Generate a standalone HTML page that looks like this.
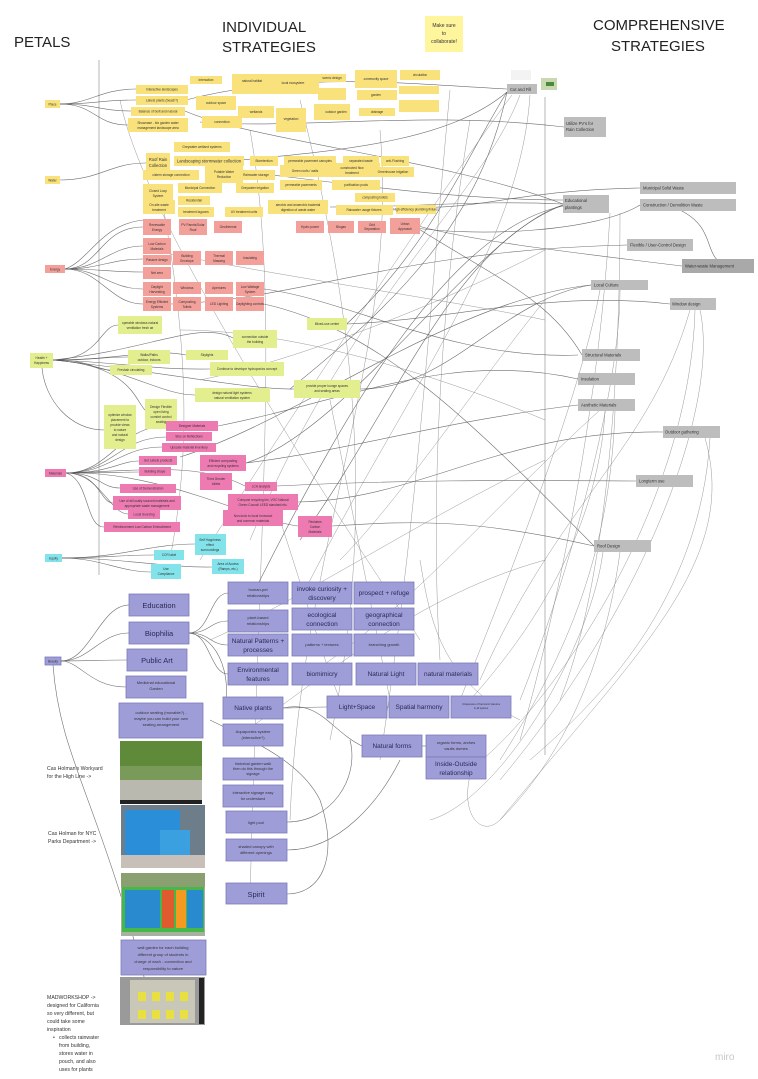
<!DOCTYPE html>
<html><head><meta charset="utf-8"><style>
html,body{margin:0;padding:0;background:#fff;}
svg{display:block;}
text{font-family:"Liberation Sans",sans-serif;fill:#333;}
.h{font-size:15px;fill:#222;}
.t{font-size:3.2px;text-anchor:middle;}
.m{font-size:4.2px;text-anchor:middle;}
.b{font-size:6.5px;text-anchor:middle;fill:#2a2a55;}
.L{font-size:7.5px;text-anchor:middle;fill:#2a2a55;}
.y{fill:#f9e27c;}
.s{fill:#f3a09a;}
.g{fill:#e3ee8f;}
.p{fill:#ee7ab2;}
.c{fill:#82e4ea;}
.u{fill:#9e9dd8;stroke:#7c7bb8;stroke-width:0.8;}
.r{fill:#bdbdbd;}
.ln path{fill:none;stroke:#555;stroke-width:0.6;opacity:0.85;}
.lf path{fill:none;stroke:#777;stroke-width:0.5;opacity:0.75;}
</style></head><body>
<svg width="758" height="1079" viewBox="0 0 758 1079" xmlns="http://www.w3.org/2000/svg">
<text class="h" x="14" y="47">PETALS</text>
<text class="h" x="222" y="32">INDIVIDUAL</text>
<text class="h" x="222" y="52">STRATEGIES</text>
<text class="h" x="593" y="30">COMPREHENSIVE</text>
<text class="h" x="611" y="51">STRATEGIES</text>
<rect x="425" y="16" width="38" height="36" fill="#fff59d"/>
<text class="m" x="444" y="27" style="font-size:5px">Make sure</text>
<text class="m" x="444" y="35" style="font-size:5px">to</text>
<text class="m" x="444" y="43" style="font-size:5px">collaborate!</text>

<line x1="99" y1="60" x2="99" y2="575" stroke="#999" stroke-width="0.7"/>
<line x1="545" y1="97" x2="545" y2="755" stroke="#999" stroke-width="0.7"/>

<g class="ln">
<path d="M60 104 C90 104 100 89 136 89"/><path d="M60 104 C95 104 100 100 136 100"/><path d="M60 104 C95 104 100 111 131 111"/><path d="M60 104 C95 104 95 125 128 125"/>
<path d="M60 180 C100 180 110 163 146 163"/>
<path d="M65 269 C100 269 100 227 143 227"/><path d="M65 269 C100 269 110 246 143 246"/><path d="M65 269 C100 269 110 259 143 259"/><path d="M65 269 C100 269 110 272 143 272"/><path d="M65 269 C100 269 110 289 143 289"/><path d="M65 269 C100 269 110 304 143 304"/><path d="M65 269 C90 260 100 225 143 220"/>
<path d="M53 360 C100 360 100 325 118 325"/><path d="M53 360 C100 360 100 357 128 357"/><path d="M53 360 C90 360 95 370 110 370"/><path d="M53 360 C120 360 150 348 186 355"/><path d="M53 360 C120 362 150 370 210 369"/><path d="M53 360 C120 365 160 395 195 395"/><path d="M53 360 C130 365 135 400 145 410"/><path d="M42 368 C45 400 70 430 104 430"/><path d="M53 360 C150 350 200 320 233 338"/><path d="M53 360 C150 370 250 390 294 389"/>
<path d="M66 473 C110 473 120 426 166 426"/><path d="M66 473 C110 473 120 437 166 437"/><path d="M66 473 C110 473 120 447 162 447"/><path d="M66 473 C110 473 120 461 139 461"/><path d="M66 473 C110 473 120 472 139 472"/><path d="M66 473 C100 473 100 488 120 488"/><path d="M66 473 C100 473 100 503 113 503"/><path d="M66 473 C100 473 110 514 128 514"/><path d="M66 473 C90 480 85 527 104 527"/><path d="M66 473 C150 470 200 463 245 486"/><path d="M66 473 C160 470 250 520 298 526"/>
<path d="M62 558 C100 558 120 555 154 555"/><path d="M62 558 C100 558 120 572 151 572"/><path d="M62 558 C120 558 150 544 195 544"/><path d="M62 558 C120 558 170 568 212 567"/>
<path d="M61 661 C90 661 100 605 129 605"/><path d="M61 661 C90 661 100 633 129 633"/><path d="M61 661 C90 661 100 660 127 660"/><path d="M61 661 C80 661 90 687 126 687"/><path d="M53 665 C60 760 100 800 150 1000"/>
<path d="M189 633 C210 633 210 593 228 593"/><path d="M189 633 C210 633 210 621 228 621"/><path d="M189 633 C210 633 210 645 228 645"/><path d="M189 633 C210 633 210 674 228 674"/><path d="M189 633 C230 640 230 700 223 708"/><path d="M283 708 C300 708 310 707 327 707"/><path d="M283 708 C320 700 330 730 362 746"/><path d="M422 746 L426 746"/><path d="M387 707 L389 707"/>
<path d="M287 894 C320 894 340 860 320 800 C300 760 250 740 210 720"/><path d="M287 822 C330 822 360 780 350 740"/><path d="M287 850 C340 850 380 800 400 760"/>
<path d="M186 100 C300 70 420 85 507 89"/><path d="M200 122 C300 130 420 110 564 127"/><path d="M230 161 C350 150 450 140 507 92"/><path d="M330 207 C420 207 480 200 563 204"/><path d="M418 226 C470 240 550 250 682 266"/><path d="M171 304 C300 300 400 250 627 245"/><path d="M347 324 C450 320 550 290 670 304"/><path d="M360 389 C450 390 500 300 591 285"/><path d="M218 426 C350 400 450 350 578 379"/><path d="M246 463 C350 450 450 420 578 405"/><path d="M277 486 C400 480 500 480 636 481"/><path d="M298 502 C420 500 500 430 663 432"/><path d="M332 526 C420 520 480 520 594 546"/>
<path d="M264 289 C350 300 450 360 578 355"/><path d="M414 226 C500 280 550 300 582 355"/><path d="M185 111 C250 140 450 160 563 204"/><path d="M230 170 C320 180 450 200 563 200"/><path d="M246 463 C350 430 480 230 563 205"/><path d="M300 540 C400 400 450 250 563 205"/><path d="M250 600 C350 400 450 230 563 206"/><path d="M415 207 C480 210 520 190 640 188"/><path d="M395 225 C480 240 600 230 640 205"/><path d="M680 210 C720 230 700 260 730 266"/>
<path d="M264 304 C380 330 470 420 594 546"/><path d="M180 457 C300 420 450 300 591 285"/><path d="M290 389 C400 300 480 220 507 92"/><path d="M340 330 C430 250 470 150 507 92"/>
</g>
<g class="lf">
<path d="M520 95 C480 200 350 300 250 540"/><path d="M530 95 C520 250 400 400 300 600"/><path d="M512 95 C470 150 300 400 200 560"/><path d="M610 213 C600 400 560 600 520 740"/><path d="M620 213 C620 420 600 600 560 700"/><path d="M600 290 C580 400 500 600 460 700"/><path d="M620 290 C620 400 560 600 520 700"/><path d="M690 310 C650 450 560 500 480 680"/><path d="M695 310 C690 500 560 700 470 770"/><path d="M700 310 C720 400 650 600 500 780"/><path d="M710 438 C700 600 600 700 530 760"/><path d="M605 411 C600 500 560 600 470 700"/><path d="M615 411 C610 550 570 650 500 760"/><path d="M603 552 C590 650 500 800 430 820"/><path d="M620 552 C600 700 540 780 500 820"/><path d="M705 438 C740 560 640 650 500 820 C480 840 455 810 475 760"/>
<path d="M300 100 C350 300 380 500 330 740"/><path d="M380 130 C400 350 300 550 290 820"/><path d="M250 130 C280 300 260 500 250 900"/><path d="M160 190 C200 400 180 500 170 560"/><path d="M120 100 C140 200 260 400 420 640"/><path d="M330 400 C350 500 370 600 390 700"/><path d="M280 520 C300 580 320 650 340 700"/><path d="M450 90 C430 300 420 500 380 760"/><path d="M470 120 C440 300 430 500 440 660"/><path d="M340 560 C400 500 480 380 545 300"/><path d="M210 640 C300 600 420 520 545 460"/><path d="M300 680 C400 620 500 500 600 410"/><path d="M230 740 C300 700 400 600 545 560"/>
<path d="M200 380 C300 360 450 300 545 250"/><path d="M150 250 C300 280 450 300 545 320"/><path d="M180 330 C300 330 450 380 545 420"/><path d="M420 560 C430 620 440 680 520 720"/>
</g>

<rect class="y" x="45" y="100" width="15" height="8"/><text class="t" x="52.5" y="105.5">Place</text>
<rect class="y" x="45" y="176" width="15" height="8"/><text class="t" x="52.5" y="181.5">Water</text>
<rect class="s" x="45" y="265" width="20" height="8"/><text class="t" x="55" y="270.5">Energy</text>
<rect class="g" x="30" y="353" width="23" height="15"/><text class="t" x="41.5" y="359">Health +</text><text class="t" x="41.5" y="364">Happiness</text>
<rect class="p" x="45" y="469" width="21" height="8"/><text class="t" x="55.5" y="474.5">Materials</text>
<rect class="c" x="45" y="554" width="17" height="8"/><text class="t" x="53.5" y="559.5">Equity</text>
<rect class="u" x="45" y="657" width="16" height="8"/><text class="t" x="53" y="662.5">Beauty</text>

<g>
<rect class="y" x="136" y="85" width="52" height="9"/><text class="t" x="162" y="90.5">Interactive landscapes</text>
<rect class="y" x="136" y="96" width="52" height="9"/><text class="t" x="162" y="101.5">Labels plants (beach?)</text>
<rect class="y" x="131" y="107" width="54" height="9"/><text class="t" x="158" y="112.5">Balance of built and natural</text>
<rect class="y" x="128" y="118" width="60" height="14"/><text class="t" x="158" y="124">Showcase - bio garden water</text><text class="t" x="158" y="129">management landscape area</text>
<rect class="y" x="190" y="76" width="32" height="8"/><rect class="y" x="232" y="74" width="40" height="20"/><rect class="y" x="196" y="96" width="40" height="14"/><rect class="y" x="238" y="106" width="36" height="12"/><rect class="y" x="202" y="116" width="40" height="12"/><rect class="y" x="276" y="108" width="30" height="24"/><rect class="y" x="267" y="74" width="52" height="20"/><rect class="y" x="318" y="74" width="28" height="8"/><rect class="y" x="318" y="88" width="28" height="12"/><rect class="y" x="314" y="104" width="36" height="16"/><rect class="y" x="355" y="70" width="42" height="18"/><rect class="y" x="357" y="90" width="40" height="10"/><rect class="y" x="359" y="108" width="36" height="8"/><rect class="y" x="400" y="70" width="40" height="10"/><rect class="y" x="399" y="86" width="40" height="8"/><rect class="y" x="399" y="100" width="40" height="12"/>
<text class="t" x="206" y="81">Interaction</text><text class="t" x="252" y="82">natural habitat</text><text class="t" x="216" y="104">outdoor space</text><text class="t" x="256" y="113">wetlands</text><text class="t" x="222" y="123">connection</text><text class="t" x="291" y="120">vegetation</text><text class="t" x="293" y="84">local ecosystem</text><text class="t" x="332" y="79">scenic design</text><text class="t" x="336" y="113">outdoor garden</text><text class="t" x="376" y="80">community space</text><text class="t" x="376" y="96">garden</text><text class="t" x="377" y="113">drainage</text><text class="t" x="420" y="76">circulation</text>
</g>
<g>
<rect class="y" x="174" y="142" width="56" height="10"/><text class="t" x="202" y="148">Greywater wetland systems</text>
<rect class="y" x="146" y="153" width="24" height="20"/><text class="m" x="158" y="161">Roof Rain</text><text class="m" x="158" y="167">Collection</text>
<rect class="y" x="174" y="156" width="70" height="10"/><text class="m" x="209" y="162.5">Landscaping stormwater collection</text>
<rect class="y" x="250" y="156" width="28" height="10"/><text class="t" x="264" y="162">Bioretention</text>
<rect class="y" x="284" y="156" width="52" height="10"/><text class="t" x="310" y="162">permeable pavement canopies</text>
<rect class="y" x="343" y="156" width="36" height="10"/><text class="t" x="361" y="162">separated waste</text>
<rect class="y" x="381" y="156" width="28" height="10"/><text class="t" x="395" y="162">anti-Flushing</text>
<rect class="y" x="143" y="170" width="56" height="10"/><text class="t" x="171" y="176">cistern storage connection</text>
<rect class="y" x="205" y="165" width="38" height="18"/><text class="t" x="224" y="173">Potable Water</text><text class="t" x="224" y="178">Reduction</text>
<rect class="y" x="237" y="170" width="38" height="10"/><text class="t" x="256" y="176">Rainwater storage</text>
<rect class="y" x="280" y="165" width="50" height="12"/><text class="t" x="305" y="172">Green roofs / walls</text>
<rect class="y" x="325" y="163" width="55" height="14"/><text class="t" x="352" y="169">constructed flow</text><text class="t" x="352" y="174">treatment</text>
<rect class="y" x="372" y="167" width="42" height="10"/><text class="t" x="393" y="173">Greenhouse irrigation</text>
<rect class="y" x="143" y="184" width="30" height="20"/><text class="t" x="158" y="192">Closed Loop</text><text class="t" x="158" y="197">System</text>
<rect class="y" x="178" y="183" width="44" height="10"/><text class="t" x="200" y="189">Municipal Connection</text>
<rect class="y" x="236" y="183" width="38" height="10"/><text class="t" x="255" y="189">Greywater irrigation</text>
<rect class="y" x="280" y="180" width="42" height="10"/><text class="t" x="301" y="186">permeable pavements</text>
<rect class="y" x="332" y="180" width="48" height="10"/><text class="t" x="356" y="186">purification pools</text>
<rect class="y" x="178" y="196" width="32" height="9"/><text class="t" x="194" y="201.5">Residential</text>
<rect class="y" x="355" y="193" width="40" height="9"/><text class="t" x="375" y="198.5">composting toilets</text>
<rect class="y" x="143" y="200" width="32" height="14"/><text class="t" x="159" y="206">On-site waste</text><text class="t" x="159" y="211">treatment</text>
<rect class="y" x="178" y="207" width="36" height="10"/><text class="t" x="196" y="213">treatment lagoons</text>
<rect class="y" x="225" y="207" width="38" height="10"/><text class="t" x="244" y="213">UV treatment units</text>
<rect class="y" x="268" y="200" width="60" height="14"/><text class="t" x="298" y="206">aerobic and anaerobic bacterial</text><text class="t" x="298" y="211">digestion of waste water</text>
<rect class="y" x="336" y="205" width="57" height="10"/><text class="t" x="364" y="211">Rainwater usage fixtures</text>
<rect class="y" x="396" y="205" width="40" height="9"/><text class="t" x="416" y="210.5">High efficiency plumbing fixtures</text>
</g>
<g>
<rect class="s" x="143" y="219" width="28" height="16"/><text class="t" x="157" y="226">Renewable</text><text class="t" x="157" y="231">Energy</text>
<rect class="s" x="179" y="219" width="28" height="16"/><text class="t" x="193" y="226">PV Panels/Solar</text><text class="t" x="193" y="231">Roof</text>
<rect class="s" x="214" y="221" width="28" height="12"/><text class="t" x="228" y="228">Geothermal</text>
<rect class="s" x="296" y="221" width="28" height="12"/><text class="t" x="310" y="228">Hydro power</text>
<rect class="s" x="328" y="221" width="26" height="12"/><text class="t" x="341" y="228">Biogas</text>
<rect class="s" x="358" y="221" width="28" height="12"/><text class="t" x="372" y="226">Grid</text><text class="t" x="372" y="230">Separation</text>
<rect class="s" x="390" y="218" width="30" height="16"/><text class="t" x="405" y="225">Urban</text><text class="t" x="405" y="230">Approach</text>
<rect class="s" x="143" y="238" width="28" height="16"/><text class="t" x="157" y="245">Low Carbon</text><text class="t" x="157" y="250">Materials</text>
<rect class="s" x="143" y="255" width="28" height="10"/><text class="t" x="157" y="261">Passive design</text>
<rect class="s" x="173" y="251" width="28" height="14"/><text class="t" x="187" y="257">Building</text><text class="t" x="187" y="262">Envelope</text>
<rect class="s" x="205" y="251" width="28" height="14"/><text class="t" x="219" y="257">Thermal</text><text class="t" x="219" y="262">Massing</text>
<rect class="s" x="236" y="251" width="28" height="14"/><text class="t" x="250" y="259">Insulating</text>
<rect class="s" x="143" y="267" width="28" height="12"/><text class="t" x="157" y="274">Net zero</text>
<rect class="s" x="143" y="282" width="28" height="14"/><text class="t" x="157" y="288">Daylight</text><text class="t" x="157" y="293">Harvesting</text>
<rect class="s" x="173" y="282" width="28" height="12"/><text class="t" x="187" y="289">Windows</text>
<rect class="s" x="205" y="282" width="28" height="12"/><text class="t" x="219" y="289">Apertures</text>
<rect class="s" x="236" y="282" width="28" height="14"/><text class="t" x="250" y="288">Low Wattage</text><text class="t" x="250" y="293">System</text>
<rect class="s" x="143" y="297" width="28" height="14"/><text class="t" x="157" y="303">Energy Efficient</text><text class="t" x="157" y="308">Systems</text>
<rect class="s" x="173" y="297" width="28" height="14"/><text class="t" x="187" y="303">Composting</text><text class="t" x="187" y="308">Toilets</text>
<rect class="s" x="205" y="297" width="28" height="14"/><text class="t" x="219" y="305">LED Lighting</text>
<rect class="s" x="236" y="297" width="28" height="14"/><text class="t" x="250" y="305">Daylighting controls</text>
</g>
<g>
<rect class="g" x="118" y="316" width="44" height="18"/><text class="t" x="140" y="324">operable windows natural</text><text class="t" x="140" y="329">ventilation fresh air</text>
<rect class="g" x="128" y="350" width="42" height="14"/><text class="t" x="149" y="356">Walks/Paths</text><text class="t" x="149" y="361">outdoor, indoors</text>
<rect class="g" x="110" y="365" width="42" height="10"/><text class="t" x="131" y="371">Freshair circulating</text>
<rect class="g" x="186" y="350" width="42" height="10"/><text class="t" x="207" y="356">Skylights</text>
<rect class="g" x="210" y="362" width="74" height="14"/><text class="t" x="247" y="370">Continue to develope hydroponics concept</text>
<rect class="g" x="233" y="330" width="44" height="18"/><text class="t" x="255" y="338">connection outside</text><text class="t" x="255" y="343">the building</text>
<rect class="g" x="307" y="318" width="40" height="12"/><text class="t" x="327" y="325">Mixed-use center</text>
<rect class="g" x="195" y="388" width="75" height="14"/><text class="t" x="232" y="394">design natural light systems</text><text class="t" x="232" y="399">natural ventilation system</text>
<rect class="g" x="294" y="380" width="66" height="18"/><text class="t" x="327" y="387">provide proper lounge spaces</text><text class="t" x="327" y="392">and seating areas</text>
<rect class="g" x="104" y="405" width="32" height="44"/><text class="t" x="120" y="416">optimize window</text><text class="t" x="120" y="421">placement to</text><text class="t" x="120" y="426">provide views</text><text class="t" x="120" y="431">to nature</text><text class="t" x="120" y="436">and natural</text><text class="t" x="120" y="441">design</text>
<rect class="g" x="145" y="399" width="32" height="30"/><text class="t" x="161" y="408">Design Flexible</text><text class="t" x="161" y="413">open living</text><text class="t" x="161" y="418">comfort control</text><text class="t" x="161" y="423">seating</text>
</g>
<g>
<rect class="p" x="166" y="421" width="52" height="10"/><text class="t" x="192" y="427">Designer Materials</text>
<rect class="p" x="166" y="432" width="46" height="9"/><text class="t" x="189" y="437.5">Stoc on Reflections</text>
<rect class="p" x="162" y="443" width="54" height="9"/><text class="t" x="189" y="448.5">Upscale material inventory</text>
<rect class="p" x="139" y="456" width="38" height="9"/><text class="t" x="158" y="461.5">Get Labels products</text>
<rect class="p" x="139" y="467" width="32" height="9"/><text class="t" x="155" y="472.5">Building shape</text>
<rect class="p" x="200" y="455" width="46" height="16"/><text class="t" x="223" y="462">Efficient composting</text><text class="t" x="223" y="467">and recycling systems</text>
<rect class="p" x="120" y="484" width="56" height="9"/><text class="t" x="148" y="489.5">Use of Demonstration</text>
<rect class="p" x="200" y="473" width="32" height="17"/><text class="t" x="216" y="480">Third Gender</text><text class="t" x="216" y="485">toilets</text>
<rect class="p" x="245" y="482" width="32" height="9"/><text class="t" x="261" y="487.5">LCA analysis</text>
<rect class="p" x="113" y="496" width="68" height="14"/><text class="t" x="147" y="502">Use of all locally sourced materials and</text><text class="t" x="147" y="507">appropriate waste management</text>
<rect class="p" x="228" y="494" width="70" height="16"/><text class="t" x="263" y="501">Compost recycling bin, VOC Natural</text><text class="t" x="263" y="506">Green Council LEED standard etc.</text>
<rect class="p" x="128" y="510" width="32" height="9"/><text class="t" x="144" y="515.5">Local Sourcing</text>
<rect class="p" x="223" y="510" width="60" height="16"/><text class="t" x="253" y="517">Non-toxic to local Ironwood</text><text class="t" x="253" y="522">and common materials</text>
<rect class="p" x="104" y="522" width="76" height="10"/><text class="t" x="142" y="528">Reinforcement Low Carbon Embodiment</text>
<rect class="p" x="298" y="516" width="34" height="21"/><text class="t" x="315" y="523">Reclaims</text><text class="t" x="315" y="528">Carbon</text><text class="t" x="315" y="533">Materials</text>
</g>
<g>
<rect class="c" x="195" y="534" width="31" height="21"/><text class="t" x="210" y="541">Self Happiness</text><text class="t" x="210" y="546">effect</text><text class="t" x="210" y="551">surroundings</text>
<rect class="c" x="154" y="550" width="30" height="10"/><text class="t" x="169" y="556">CCR label</text>
<rect class="c" x="212" y="559" width="32" height="15"/><text class="t" x="228" y="565">Area of Access</text><text class="t" x="228" y="570">(Ramps, etc.)</text>
<rect class="c" x="151" y="564" width="30" height="15"/><text class="t" x="166" y="570">Use</text><text class="t" x="166" y="575">Compliance</text>
</g>
<g>
<rect class="u" x="129" y="594" width="60" height="22"/><text class="L" x="159" y="608">Education</text>
<rect class="u" x="129" y="622" width="60" height="22"/><text class="L" x="159" y="636">Biophilia</text>
<rect class="u" x="127" y="649" width="60" height="22"/><text class="L" x="157" y="663">Public Art</text>
<rect class="u" x="126" y="676" width="60" height="22"/><text class="t" x="156" y="684" style="font-size:4px">Medicinal educational</text><text class="t" x="156" y="690" style="font-size:4px">Garden</text>
<rect class="u" x="119" y="703" width="84" height="35"/><text class="t" x="161" y="714" style="font-size:4px">outdoor seating (movable?) -</text><text class="t" x="161" y="720" style="font-size:4px">maybe you can build your own</text><text class="t" x="161" y="726" style="font-size:4px">seating arrangement</text>
<rect class="u" x="228" y="582" width="60" height="22"/><text class="t" x="258" y="591" style="font-size:4px">human-pet</text><text class="t" x="258" y="597" style="font-size:4px">relationships</text>
<rect class="u" x="292" y="582" width="60" height="22"/><text class="b" x="322" y="591">invoke curiosity +</text><text class="b" x="322" y="600">discovery</text>
<rect class="u" x="354" y="582" width="60" height="22"/><text class="b" x="384" y="595">prospect + refuge</text>
<rect class="u" x="228" y="610" width="60" height="22"/><text class="t" x="258" y="619" style="font-size:4px">plant-based</text><text class="t" x="258" y="625" style="font-size:4px">relationships</text>
<rect class="u" x="292" y="608" width="60" height="22"/><text class="b" x="322" y="617">ecological</text><text class="b" x="322" y="626">connection</text>
<rect class="u" x="354" y="608" width="60" height="22"/><text class="b" x="384" y="617">geographical</text><text class="b" x="384" y="626">connection</text>
<rect class="u" x="228" y="634" width="60" height="22"/><text class="b" x="258" y="643">Natural Patterns +</text><text class="b" x="258" y="652">processes</text>
<rect class="u" x="292" y="634" width="60" height="22"/><text class="t" x="322" y="646" style="font-size:4px">patterns + textures</text>
<rect class="u" x="354" y="634" width="60" height="22"/><text class="t" x="384" y="646" style="font-size:4px">branching growth</text>
<rect class="u" x="228" y="663" width="60" height="22"/><text class="b" x="258" y="672">Environmental</text><text class="b" x="258" y="681">features</text>
<rect class="u" x="292" y="663" width="60" height="22"/><text class="b" x="322" y="676">biomimicry</text>
<rect class="u" x="356" y="663" width="60" height="22"/><text class="b" x="386" y="676">Natural Light</text>
<rect class="u" x="418" y="663" width="60" height="22"/><text class="b" x="448" y="676">natural materials</text>
<rect class="u" x="223" y="697" width="60" height="22"/><text class="b" x="253" y="710">Native plants</text>
<rect class="u" x="327" y="696" width="60" height="22"/><text class="b" x="357" y="709">Light+Space</text>
<rect class="u" x="389" y="696" width="60" height="22"/><text class="b" x="419" y="709">Spatial harmony</text>
<rect class="u" x="451" y="696" width="60" height="22"/><text class="t" x="481" y="705" style="font-size:2.6px">Uniqueness of harmonic features</text><text class="t" x="481" y="709" style="font-size:2.6px">in all spaces</text>
<rect class="u" x="223" y="724" width="60" height="22"/><text class="t" x="253" y="733" style="font-size:4px">Aquaponics system</text><text class="t" x="253" y="739" style="font-size:4px">(interactive?)</text>
<rect class="u" x="362" y="735" width="60" height="22"/><text class="b" x="392" y="748">Natural forms</text>
<rect class="u" x="426" y="735" width="60" height="22"/><text class="t" x="456" y="744" style="font-size:4px">organic forms, arches</text><text class="t" x="456" y="750" style="font-size:4px">vaults domes</text>
<rect class="u" x="426" y="757" width="60" height="22"/><text class="b" x="456" y="766">Inside-Outside</text><text class="b" x="456" y="775">relationship</text>
<rect class="u" x="223" y="758" width="60" height="22"/><text class="t" x="253" y="765" style="font-size:3.8px">historical garden walk</text><text class="t" x="253" y="770" style="font-size:3.8px">then do this through the</text><text class="t" x="253" y="775" style="font-size:3.8px">signage</text>
<rect class="u" x="223" y="785" width="60" height="22"/><text class="t" x="253" y="794" style="font-size:3.8px">interactive signage easy</text><text class="t" x="253" y="800" style="font-size:3.8px">for understand</text>
<rect class="u" x="226" y="811" width="61" height="22"/><text class="t" x="256" y="824" style="font-size:4px">light pool</text>
<rect class="u" x="226" y="839" width="61" height="22"/><text class="t" x="256" y="848" style="font-size:4px">shaded canopy with</text><text class="t" x="256" y="854" style="font-size:4px">different openings</text>
<rect class="u" x="226" y="883" width="61" height="21"/><text class="L" x="256" y="897">Spirit</text>
<rect class="u" x="121" y="940" width="85" height="35"/><text class="t" x="163" y="949" style="font-size:4px">wall garden for each building</text><text class="t" x="163" y="956" style="font-size:4px">different group of students in</text><text class="t" x="163" y="963" style="font-size:4px">charge of each - connection and</text><text class="t" x="163" y="970" style="font-size:4px">responsibility to nature</text>
</g>
<rect x="120" y="741" width="82" height="62" fill="#7a9a5a"/><rect x="120" y="741" width="82" height="25" fill="#5f8a3a"/><rect x="120" y="780" width="82" height="23" fill="#b9b9b0"/><rect x="120" y="800" width="82" height="4" fill="#222"/>
<rect x="121" y="805" width="84" height="63" fill="#6d7d8a"/><rect x="125" y="810" width="55" height="50" fill="#2a8fd8"/><rect x="160" y="830" width="30" height="36" fill="#3aa0e0"/><rect x="121" y="855" width="84" height="13" fill="#c8c0b8"/>
<rect x="121" y="873" width="84" height="63" fill="#a8b0a0"/><rect x="121" y="873" width="84" height="14" fill="#8aa070"/><rect x="122" y="887" width="82" height="45" fill="#46b84a"/><rect x="125" y="890" width="35" height="38" fill="#2a8ad0"/><rect x="162" y="890" width="12" height="38" fill="#e05a30"/><rect x="176" y="890" width="10" height="38" fill="#f59a20"/><rect x="187" y="890" width="16" height="38" fill="#2a8ad0"/>
<rect x="120" y="977" width="85" height="48" fill="#9a9a9a"/><rect x="130" y="980" width="65" height="43" fill="#c9c7b8"/><g fill="#e8e040"><rect x="138" y="992" width="8" height="9"/><rect x="152" y="992" width="8" height="9"/><rect x="166" y="992" width="8" height="9"/><rect x="180" y="992" width="8" height="9"/><rect x="138" y="1010" width="8" height="9"/><rect x="152" y="1010" width="8" height="9"/><rect x="166" y="1010" width="8" height="9"/><rect x="180" y="1010" width="8" height="9"/></g><rect x="199" y="978" width="5" height="46" fill="#222"/>
<g style="font-size:5.2px">
<text x="47" y="770">Cas Holman's Workyard</text><text x="47" y="778">for the High Line -&gt;</text>
<text x="48" y="835">Cas Holman for NYC</text><text x="48" y="843">Parks Department -&gt;</text>
<text x="47" y="999">MADWORKSHOP -&gt;</text><text x="47" y="1007">designed for California</text><text x="47" y="1015">so very different, but</text><text x="47" y="1023">could take some</text><text x="47" y="1031">inspiration</text><text x="53" y="1039">•</text><text x="59" y="1039">collects rainwater</text><text x="59" y="1047">from building,</text><text x="59" y="1055">stores water in</text><text x="59" y="1063">pouch, and also</text><text x="59" y="1071">uses for plants</text>
</g>
<g style="font-size:4.2px">
<rect class="r" x="507" y="84" width="30" height="10"/><text x="510" y="91">Cut and Fill</text>
<rect x="511" y="70" width="20" height="10" fill="#f3f3f3"/><rect x="541" y="78" width="16" height="12" fill="#c8d8b0"/><rect x="546" y="82" width="8" height="4" fill="#4a8a3a"/>
<rect class="r" x="564" y="117" width="42" height="20"/><text x="566" y="125">Utilize PV's for</text><text x="566" y="131">Rain Collection</text>
<rect class="r" x="563" y="195" width="46" height="18"/><text x="565" y="202">Educational</text><text x="565" y="209">plantings</text>
<rect class="r" x="640" y="182" width="96" height="12"/><text x="643" y="189.5">Municipal Solid Waste</text>
<rect class="r" x="640" y="199" width="96" height="12"/><text x="643" y="206.5">Construction / Demolition Waste</text>
<rect class="r" x="627" y="239" width="66" height="12"/><text x="630" y="246.5">Flexible / User-Control Design</text>
<rect fill="#a9a9a9" x="682" y="259" width="72" height="14"/><text x="685" y="267.5">Water-waste Management</text>
<rect class="r" x="591" y="280" width="57" height="10"/><text x="594" y="286.5">Local Culture</text>
<rect class="r" x="670" y="298" width="46" height="12"/><text x="672" y="305.5">Window design</text>
<rect class="r" x="582" y="349" width="58" height="12"/><text x="585" y="356.5">Structural Materials</text>
<rect class="r" x="578" y="373" width="57" height="12"/><text x="581" y="380.5">Insulation</text>
<rect class="r" x="578" y="399" width="57" height="12"/><text x="581" y="406.5">Aesthetic Materials</text>
<rect class="r" x="663" y="426" width="57" height="12"/><text x="665" y="433.5">Outdoor gathering</text>
<rect class="r" x="636" y="475" width="57" height="12"/><text x="639" y="482.5">Longterm use</text>
<rect class="r" x="594" y="540" width="57" height="12"/><text x="597" y="547.5">Roof Design</text>
</g>
<text x="715" y="1060" style="font-size:10px;fill:#c8c8c8">miro</text>
</svg>
</body></html>
